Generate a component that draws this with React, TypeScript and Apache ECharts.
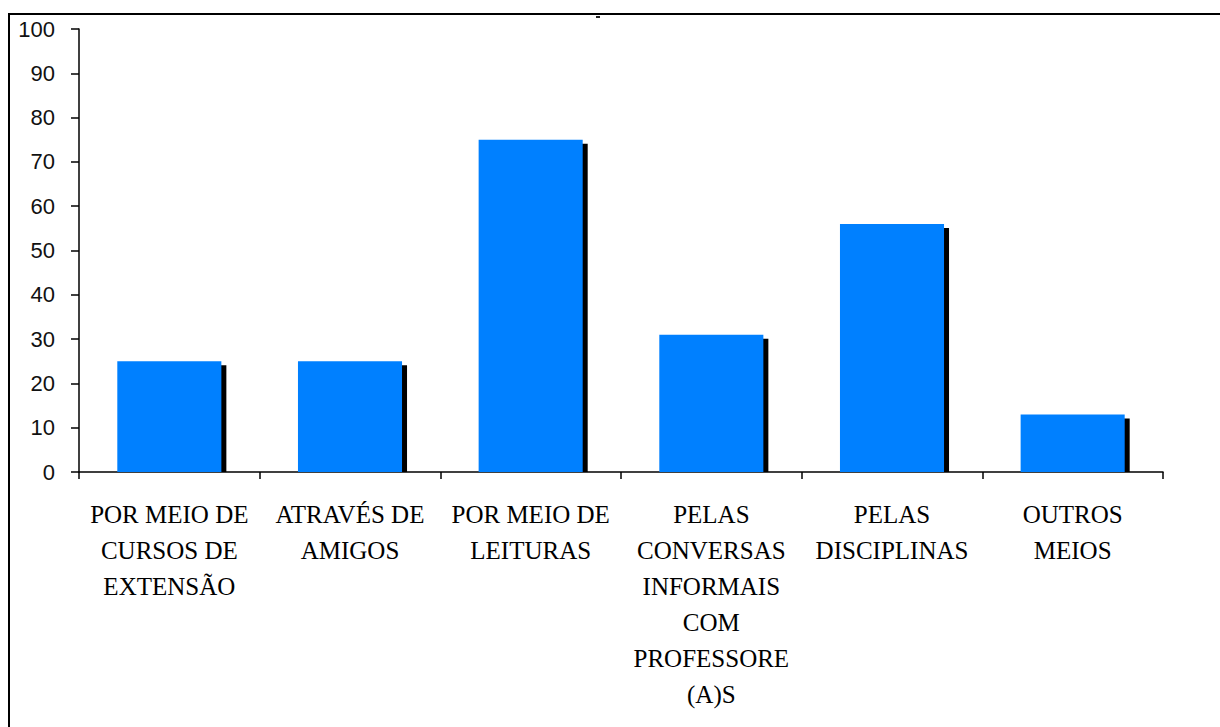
import React, { useEffect, useRef } from "react";
import * as echarts from "echarts";

// Categories (line breaks as printed under each bar)
const categories = [
  "POR MEIO DE\nCURSOS DE\nEXTENSÃO",
  "ATRAVÉS DE\nAMIGOS",
  "POR MEIO DE\nLEITURAS",
  "PELAS\nCONVERSAS\nINFORMAIS\nCOM\nPROFESSORE\n(A)S",
  "PELAS\nDISCIPLINAS",
  "OUTROS\nMEIOS",
];

// Percentage of answers per category
const values = [25, 25, 75, 31, 56, 13];

// Value axis ticks
const yMin = 0;
const yMax = 100;
const yStep = 10;

const BAR_COLOR = "#0080ff";
const SHADOW_COLOR = "#000000";
const BAR_RATIO = 0.576;

export default function App() {
  const ref = useRef<HTMLDivElement>(null);

  useEffect(() => {
    if (!ref.current) return;
    const chart = echarts.init(ref.current, null, { renderer: "svg" });

    const shadowData = values.map((v, i) => [i, v]);

    chart.setOption({
      animation: false,
      backgroundColor: "#ffffff",
      grid: { left: 79, right: 57, top: 29, bottom: 255, containLabel: false },
      graphic: [
        {
          type: "rect",
          shape: { x: 9, y: 14, width: 1240, height: 760 },
          style: { fill: "none", stroke: "#000", lineWidth: 2 },
          silent: true,
        },
        {
          type: "rect",
          shape: { x: 596, y: 16, width: 4, height: 2 },
          style: { fill: "#222" },
          silent: true,
        },
      ],
      xAxis: {
        type: "category",
        data: categories,
        axisLine: { show: true, lineStyle: { color: "#000", width: 1.5 } },
        axisTick: {
          show: true,
          alignWithLabel: false,
          length: 7,
          lineStyle: { color: "#000", width: 1.5 },
        },
        axisLabel: {
          interval: 0,
          margin: 24,
          color: "#000",
          fontFamily: "'Liberation Serif', 'DejaVu Serif', serif",
          fontSize: 25,
          lineHeight: 36,
          align: "center",
        },
        splitLine: { show: false },
      },
      yAxis: {
        type: "value",
        min: yMin,
        max: yMax,
        interval: yStep,
        axisLine: { show: true, lineStyle: { color: "#000", width: 1.5 } },
        axisTick: { show: true, length: 8, lineStyle: { color: "#000", width: 1.5 } },
        axisLabel: {
          margin: 24,
          color: "#111",
          fontFamily: "'Liberation Sans', Arial, sans-serif",
          fontSize: 22,
        },
        splitLine: { show: false },
      },
      series: [
        {
          type: "custom",
          z: 1,
          silent: true,
          data: shadowData,
          encode: { x: 0, y: 1 },
          renderItem: (params: any, api: any) => {
            const idx = api.value(0);
            const v = api.value(1);
            const top = api.coord([idx, v]);
            const base = api.coord([idx, 0]);
            const w = api.size([1, 0])[0] * BAR_RATIO;
            const y = top[1] + 4;
            return {
              type: "rect",
              shape: {
                x: top[0] - w / 2 + 5,
                y,
                width: w,
                height: Math.max(0, base[1] - y),
              },
              style: { fill: SHADOW_COLOR },
            };
          },
        },
        {
          type: "bar",
          z: 2,
          data: values,
          barWidth: `${BAR_RATIO * 100}%`,
          itemStyle: { color: BAR_COLOR },
        },
      ],
    });

    return () => chart.dispose();
  }, []);

  return (
    <div
      ref={ref}
      style={{ position: "fixed", left: 0, top: 0, width: 1220, height: 727 }}
    />
  );
}
